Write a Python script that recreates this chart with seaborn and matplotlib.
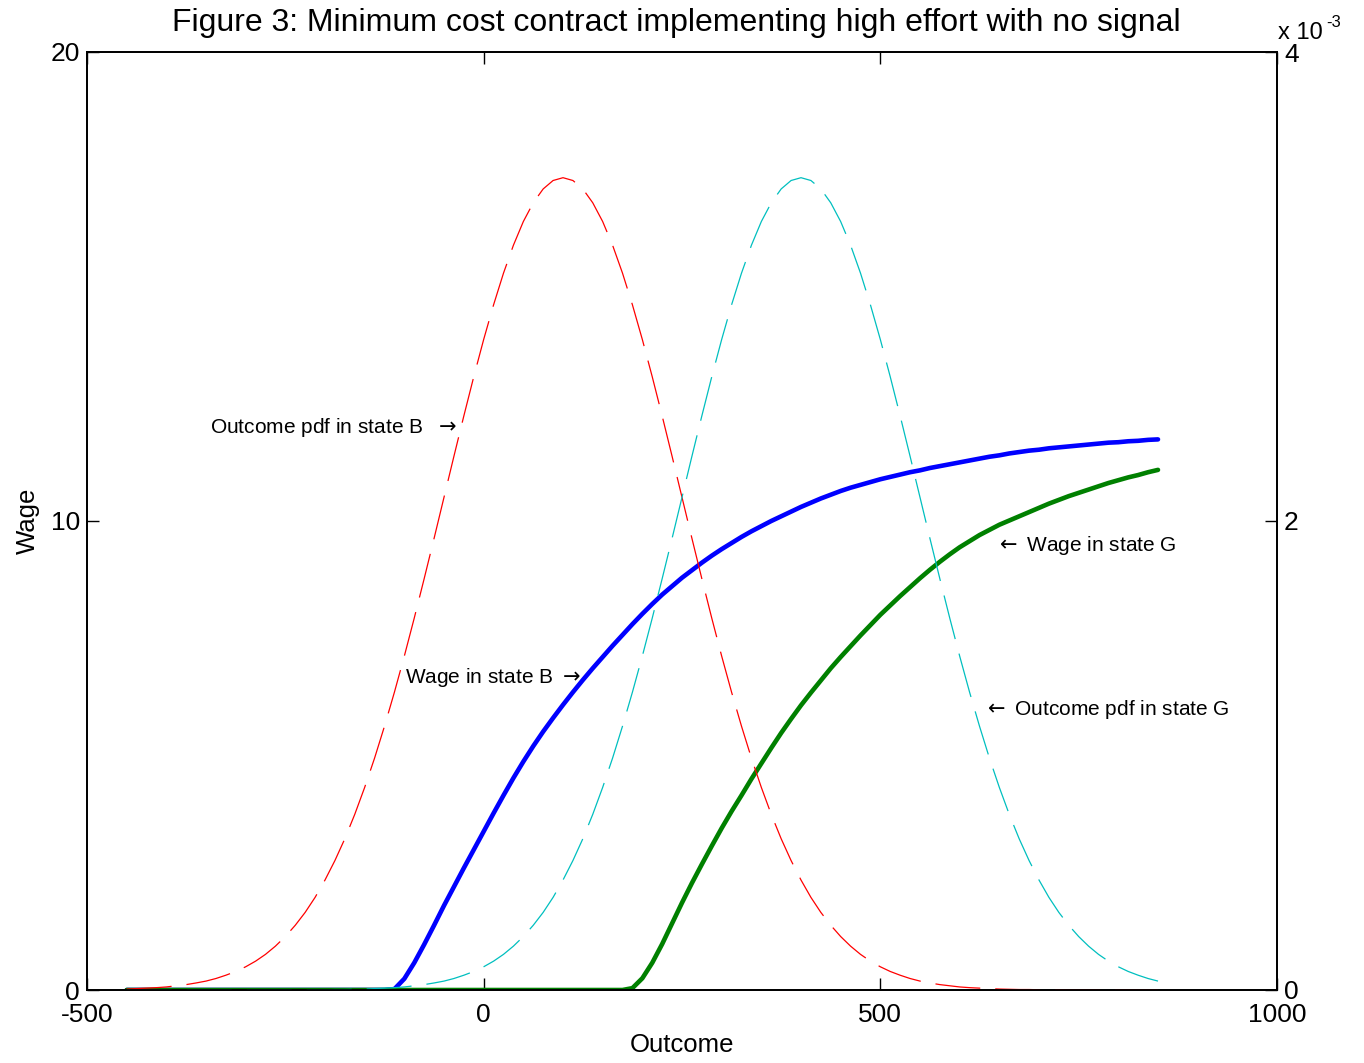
import matplotlib
matplotlib.use("Agg")
import matplotlib.pyplot as plt
import seaborn as sns

# ---------------- data ----------------
outcome = [-450 + 12.5 * i for i in range(105)]

# wage in state B (left axis)
wage_b = [0, 0, 0, 0, 0, 0, 0, 0, 0, 0, 0, 0, 0, 0, 0, 0, 0, 0, 0, 0,
          0, 0, 0, 0, 0, 0, 0,
          0.02, 0.24, 0.58, 0.97, 1.38, 1.80, 2.20, 2.60, 2.99, 3.38,
          3.77, 4.15, 4.52, 4.87, 5.20, 5.51, 5.80, 6.08, 6.35, 6.61,
          6.86, 7.10, 7.34, 7.57, 7.80, 8.02, 8.23, 8.43, 8.61, 8.79,
          8.95, 9.11, 9.26, 9.40, 9.53, 9.66, 9.78, 9.89, 10.00, 10.10,
          10.20, 10.30, 10.39, 10.48, 10.56, 10.64, 10.71, 10.77, 10.83, 10.89,
          10.94, 10.99, 11.04, 11.08, 11.13, 11.17, 11.21, 11.25, 11.29, 11.33,
          11.37, 11.40, 11.44, 11.47, 11.50, 11.52, 11.55, 11.57, 11.59, 11.61,
          11.63, 11.65, 11.67, 11.68, 11.70, 11.71, 11.73, 11.74]

# wage in state G (left axis)
wage_g = [0, 0, 0, 0, 0, 0, 0, 0, 0, 0, 0, 0, 0, 0, 0, 0, 0, 0, 0, 0,
          0, 0, 0, 0, 0, 0, 0, 0, 0, 0, 0, 0, 0, 0, 0, 0, 0, 0, 0, 0,
          0, 0, 0, 0, 0, 0, 0, 0, 0, 0, 0,
          0.04, 0.25, 0.58, 0.98, 1.42, 1.86, 2.28, 2.68, 3.07, 3.45,
          3.81, 4.15, 4.50, 4.83, 5.16, 5.48, 5.78, 6.07, 6.34, 6.60,
          6.86, 7.10, 7.33, 7.56, 7.78, 8.00, 8.20, 8.40, 8.59, 8.78,
          8.96, 9.13, 9.29, 9.44, 9.57, 9.70, 9.81, 9.92, 10.01, 10.10,
          10.19, 10.28, 10.37, 10.45, 10.53, 10.60, 10.67, 10.74, 10.81, 10.87,
          10.93, 10.98, 11.04, 11.09]

# outcome pdf in state B (right axis, units of 1e-3)
pdf_b = [0.004, 0.006, 0.008, 0.010, 0.013, 0.018, 0.023, 0.030, 0.038, 0.049,
         0.063, 0.079, 0.099, 0.123, 0.152, 0.187, 0.228, 0.276, 0.331, 0.395,
         0.469, 0.552, 0.645, 0.749, 0.864, 0.989, 1.125, 1.270, 1.424, 1.586,
         1.754, 1.926, 2.101, 2.276, 2.448, 2.615, 2.774, 2.922, 3.057, 3.176,
         3.277, 3.357, 3.416, 3.452, 3.464,
         3.452, 3.416, 3.357, 3.277, 3.176, 3.057, 2.922, 2.774, 2.615, 2.448,
         2.276, 2.101, 1.926, 1.754, 1.586, 1.424, 1.270, 1.125, 0.989, 0.864,
         0.749, 0.645, 0.552, 0.469, 0.395, 0.331, 0.276, 0.228, 0.187, 0.152,
         0.123, 0.099, 0.079, 0.063, 0.049, 0.038, 0.030, 0.023, 0.018, 0.013,
         0.010, 0.008, 0.006, 0.004, 0.003, 0.002, 0.002, 0.001, 0.001, 0.001,
         0.000, 0.000, 0.000, 0.000, 0.000, 0.000, 0.000, 0.000, 0.000, 0.000]

# outcome pdf in state G (right axis, units of 1e-3)
pdf_g = [0.000, 0.000, 0.000, 0.000, 0.000, 0.000, 0.000, 0.000, 0.000, 0.000,
         0.000, 0.000, 0.000, 0.000, 0.000, 0.000, 0.000, 0.000,
         0.001, 0.001, 0.001, 0.002, 0.002, 0.003, 0.004, 0.006, 0.008, 0.010,
         0.013, 0.018, 0.023, 0.030, 0.038, 0.049, 0.063, 0.079, 0.099, 0.123,
         0.152, 0.187, 0.228, 0.276, 0.331, 0.395, 0.469, 0.552, 0.645, 0.749,
         0.864, 0.989, 1.125, 1.270, 1.424, 1.586, 1.754, 1.926, 2.101, 2.276,
         2.448, 2.615, 2.774, 2.922, 3.057, 3.176, 3.277, 3.357, 3.416, 3.452,
         3.464,
         3.452, 3.416, 3.357, 3.277, 3.176, 3.057, 2.922, 2.774, 2.615, 2.448,
         2.276, 2.101, 1.926, 1.754, 1.586, 1.424, 1.270, 1.125, 0.989, 0.864,
         0.749, 0.645, 0.552, 0.469, 0.395, 0.331, 0.276, 0.228, 0.187, 0.152,
         0.123, 0.099, 0.079, 0.063, 0.049, 0.038]

x_ticks = [-500, 0, 500, 1000]
x_tick_labels = ["-500", "0", "500", "1000"]
left_ticks = [0, 10, 20]
left_tick_labels = ["0", "10", "20"]
right_ticks = [0, 2, 4]
right_tick_labels = ["0", "2", "4"]

title = "Figure 3: Minimum cost contract implementing high effort with no signal"

# ---------------- style ----------------
sns.set_style("ticks")
plt.rcParams["font.family"] = ["Liberation Sans", "DejaVu Sans"]
plt.rcParams["axes.unicode_minus"] = False
for key in ("text.color", "axes.labelcolor", "xtick.color", "ytick.color",
            "axes.edgecolor"):
    plt.rcParams[key] = "black"

W, H = 1364, 1063
fig = plt.figure(figsize=(W / 100, H / 100), dpi=100)
ax = fig.add_axes([87 / W, 1 - 990 / H, 1190 / W, 938 / H])
ax2 = ax.twinx()

# wages (left axis)
sns.lineplot(x=outcome, y=wage_b, ax=ax, color=(0, 0, 1), linewidth=3.3,
             errorbar=None)
sns.lineplot(x=outcome, y=wage_g, ax=ax, color=(0, 0.5, 0), linewidth=3.3,
             errorbar=None)

# pdfs (right axis)
sns.lineplot(x=outcome, y=pdf_b, ax=ax2, color=(1, 0, 0), linewidth=0.9,
             errorbar=None)
sns.lineplot(x=outcome, y=pdf_g, ax=ax2, color=(0, 0.75, 0.75), linewidth=0.9,
             errorbar=None)
for ln in ax2.get_lines():
    ln.set_linestyle((0, (36, 12)))

ax.set_xlim(-500, 1000)
ax.set_ylim(0, 20)
ax2.set_ylim(0, 4)

ax.set_xticks(x_ticks)
ax.set_xticklabels(x_tick_labels)
ax.set_yticks(left_ticks)
ax.set_yticklabels(left_tick_labels)
ax2.set_yticks(right_ticks)
ax2.set_yticklabels(right_tick_labels)

for a in (ax, ax2):
    for s in a.spines.values():
        s.set_linewidth(1.3)
        s.set_color("black")

ax.tick_params(axis="x", direction="in", length=8.6, width=1.0, top=True,
               labelsize=19, pad=9, colors="black")
ax.tick_params(axis="y", direction="in", length=8.6, width=1.0, right=False,
               labelsize=19, pad=5, colors="black")
ax2.tick_params(axis="y", direction="in", length=8.6, width=1.0, left=False,
                labelsize=19, pad=5, colors="black")

ax.set_xlabel("Outcome", fontsize=18.5, labelpad=5)
ax.set_ylabel("Wage", fontsize=18.5, labelpad=8)
ax2.set_ylabel("")

ax.set_title(title, fontsize=23, pad=15, x=0.495)

# multiplier for the right axis
fig.text(1278 / W, 1 - 39 / H, "x 10", fontsize=17, va="baseline", ha="left")
fig.text(1326 / W, 1 - 27 / H, "-3", fontsize=12, va="baseline", ha="left")

# annotations
fs = 15
ax.text(-345, 12.0, r"Outcome pdf in state B  $\rightarrow$", fontsize=fs,
        va="center", ha="left")
ax.text(-99, 6.67, r"Wage in state B $\rightarrow$", fontsize=fs,
        va="center", ha="left")
ax.text(644, 9.47, r"$\leftarrow$ Wage in state G", fontsize=fs,
        va="center", ha="left")
ax.text(629, 5.98, r"$\leftarrow$ Outcome pdf in state G", fontsize=fs,
        va="center", ha="left")

fig.savefig("out.png", dpi=100)
